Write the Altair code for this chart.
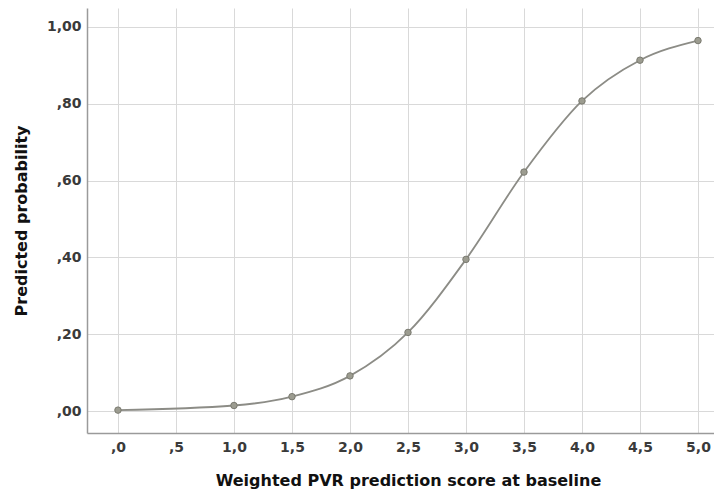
import altair as alt
import pandas as pd

# Data
score = [0.0, 1.0, 1.5, 2.0, 2.5, 3.0, 3.5, 4.0, 4.5, 5.0]
prob = [0.003, 0.015, 0.038, 0.092, 0.205, 0.395, 0.622, 0.807, 0.913, 0.964]
x_ticks = [0.0, 0.5, 1.0, 1.5, 2.0, 2.5, 3.0, 3.5, 4.0, 4.5, 5.0]
y_ticks = [0.0, 0.2, 0.4, 0.6, 0.8, 1.0]

df = pd.DataFrame({"score": score, "prob": prob})

FONT = "DejaVu Sans"

x_enc = alt.X(
    "score:Q",
    scale=alt.Scale(domain=[-0.267, 5.138], nice=False, zero=False),
    axis=alt.Axis(
        title="Weighted PVR prediction score at baseline",
        values=x_ticks,
        labelExpr="datum.value < 1 ? slice(replace(format(datum.value,'.1f'),'.',','),1) : replace(format(datum.value,'.1f'),'.',',')",
        ticks=False,
        labelPadding=7,
        titlePadding=18,
        titleX=321,
    ),
)
y_enc = alt.Y(
    "prob:Q",
    scale=alt.Scale(domain=[-0.0565, 1.0487], nice=False, zero=False),
    axis=alt.Axis(
        title="Predicted probability",
        values=y_ticks,
        labelExpr="datum.value < 1 ? slice(replace(format(datum.value,'.2f'),'.',','),1) : replace(format(datum.value,'.2f'),'.',',')",
        ticks=False,
        labelPadding=6,
        titlePadding=17,
    ),
)

base = alt.Chart(df).encode(x=x_enc, y=y_enc)

line = base.mark_line(interpolate="monotone", color="#8c8c86", strokeWidth=1.8)
points = base.mark_point(
    filled=True, size=42, color="#9c9c90", stroke="#7a7a70", strokeWidth=1, opacity=1
)

chart = (
    alt.layer(line, points)
    .properties(
        width=627,
        height=425,
        autosize=alt.AutoSizeParams(type="none"),
        padding={"left": 79, "top": 0, "right": 0, "bottom": 60},
    )
    .configure_view(stroke=None)
    .configure_axis(
        labelFont=FONT,
        titleFont=FONT,
        labelFontSize=14,
        labelFontWeight="bold",
        labelColor="#3a3a3a",
        titleFontSize=16,
        titleFontWeight="bold",
        titleColor="#111111",
        gridColor="#d9d9d9",
        gridWidth=1,
        domainColor="#9a9a9a",
        domainWidth=1.5,
    )
)

chart.save("out.html", embed_options={"renderer": "svg", "actions": False})
